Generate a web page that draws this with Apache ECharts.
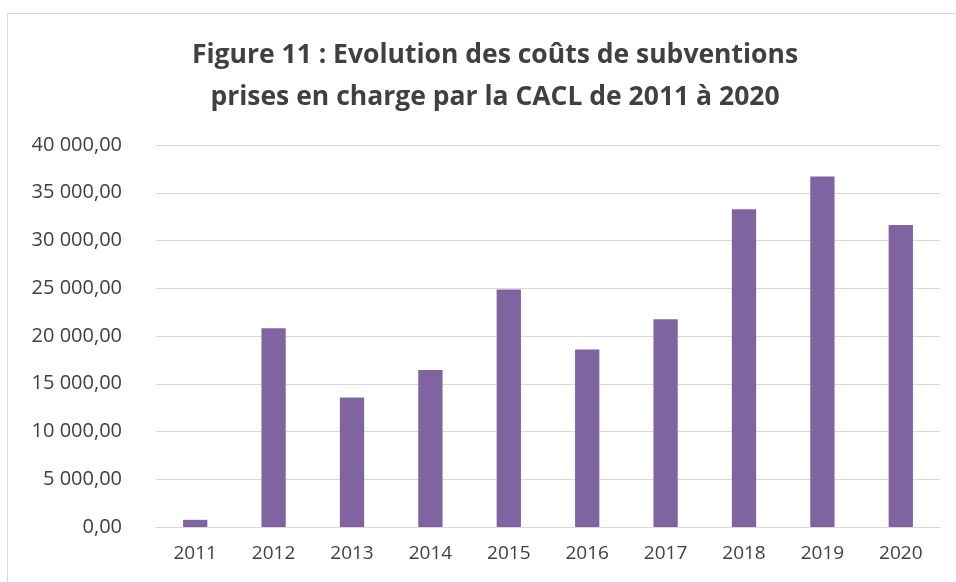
<!DOCTYPE html>
<html>
<head>
<meta charset="utf-8">
<script src="https://cdn.jsdelivr.net/npm/echarts@6/dist/echarts.min.js"></script>
<style>
  html, body { margin: 0; padding: 0; background: #fff; }
  #frame { position: absolute; left: 7px; top: 13px; width: 960px; height: 580px; border: 1px solid #d9d9d9; box-sizing: border-box; }
  #chart { position: absolute; left: 0; top: 0; width: 956px; height: 582px; }
</style>
</head>
<body>
<div id="frame"></div>
<div id="chart"></div>
<script>
// années et coûts
var annees = ['2011', '2012', '2013', '2014', '2015', '2016', '2017', '2018', '2019', '2020'];
var couts = [750, 20800, 13570, 16430, 24870, 18590, 21760, 33270, 36690, 31630];
var titre = 'Figure 11 : Evolution des coûts de subventions\nprises en charge par la CACL de 2011 à 2020';

// format "40 000,00"
function formatFr(v) {
    var s = Math.round(v).toString().replace(/\B(?=(\d{3})+(?!\d))/g, ' ');
    return s + ',00';
}

var myChart = echarts.init(document.getElementById('chart'));
var option = {
    animation: false,
    title: {
        text: titre,
        left: 490,
        textAlign: 'center',
        top: 29,
        textStyle: {
            fontFamily: 'Open Sans',
            fontWeight: 'bold',
            fontSize: 26.5,
            lineHeight: 42,
            color: '#404040'
        }
    },
    grid: {
        left: 156,
        right: 16,
        top: 145,
        bottom: 55
    },
    xAxis: {
        type: 'category',
        data: annees,
        axisTick: {show: false},
        axisLine: {lineStyle: {color: '#d9d9d9', width: 1}},
        axisLabel: {
            color: '#404040',
            fontFamily: 'Open Sans',
            fontSize: 19,
            margin: 17
        }
    },
    yAxis: {
        type: 'value',
        min: 0,
        max: 40000,
        interval: 5000,
        axisLine: {show: false},
        axisTick: {show: false},
        splitLine: {lineStyle: {color: '#d9d9d9', width: 1}},
        axisLabel: {
            color: '#404040',
            fontFamily: 'Open Sans',
            fontSize: 20,
            margin: 34,
            formatter: formatFr
        }
    },
    series: [
        {
            name: 'Coûts',
            type: 'bar',
            data: couts,
            barWidth: '31%',
            itemStyle: {color: '#8064a2'}
        }
    ]
};
myChart.setOption(option);
</script>
</body>
</html>
